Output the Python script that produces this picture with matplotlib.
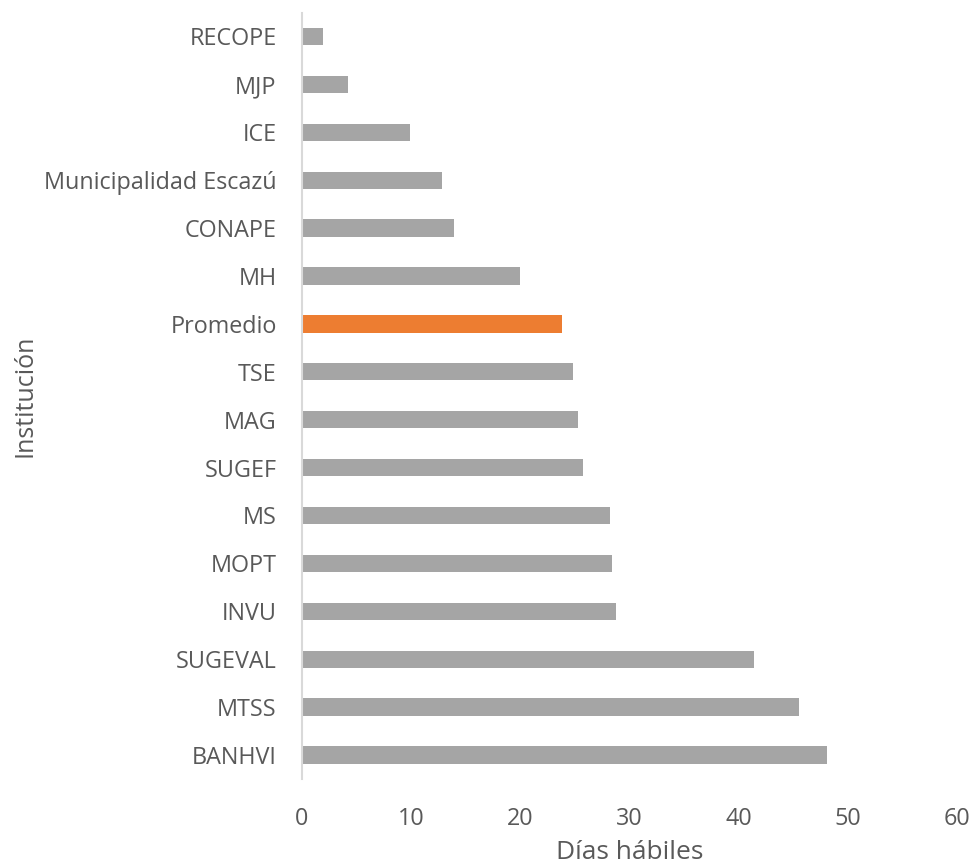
import matplotlib.pyplot as plt

instituciones = ["RECOPE", "MJP", "ICE", "Municipalidad Escazú", "CONAPE", "MH",
                 "Promedio", "TSE", "MAG", "SUGEF", "MS", "MOPT", "INVU",
                 "SUGEVAL", "MTSS", "BANHVI"]
dias = [2.0, 4.2, 9.9, 12.8, 13.9, 20.0, 23.8, 24.8, 25.3, 25.7, 28.2, 28.4,
        28.8, 41.4, 45.5, 48.1]

colores = ["#ed7d31" if n == "Promedio" else "#a5a5a5" for n in instituciones]

plt.rcParams['font.family'] = ['Open Sans', 'DejaVu Sans']
fig = plt.figure(figsize=(9.73, 8.65), dpi=100)
ax = fig.add_axes([0.31, 0.0995, 0.674, 0.886])

ax.barh(range(len(dias)), dias, height=0.36, color=colores)
ax.set_ylim(len(dias) - 0.5, -0.5)
ax.set_xlim(0, 60)
ax.set_yticks(range(len(dias)))
ax.set_yticklabels(instituciones)
ax.set_xticks(range(0, 61, 10))

for s in ["top", "right", "bottom"]:
    ax.spines[s].set_visible(False)
ax.spines["left"].set_color("#d9d9d9")
ax.spines["left"].set_linewidth(1.5)

ax.tick_params(axis='both', length=0, labelsize=16.8, colors="#595959")
ax.tick_params(axis='x', pad=20)
ax.tick_params(axis='y', pad=18)

ax.set_xlabel("Días hábiles", fontsize=19, color="#595959", labelpad=7)
ax.set_ylabel("Institución", fontsize=18, color="#595959", labelpad=5)

plt.savefig('out.png')
